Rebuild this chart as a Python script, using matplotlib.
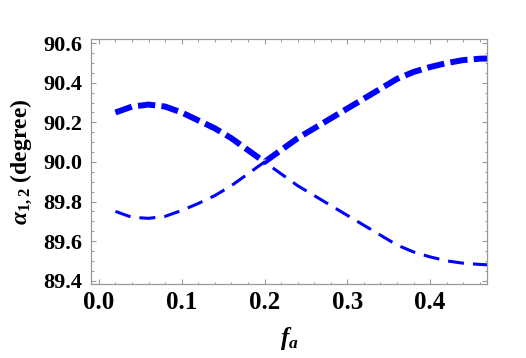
import matplotlib
matplotlib.use("Agg")
import matplotlib.pyplot as plt
from matplotlib.ticker import MultipleLocator

# values
fa = [0.02, 0.04, 0.06, 0.08, 0.10, 0.12, 0.14, 0.16, 0.18, 0.20,
      0.22, 0.24, 0.26, 0.28, 0.30, 0.32, 0.34, 0.36, 0.38, 0.40,
      0.42, 0.44, 0.46, 0.47]
alpha1 = [90.25, 90.28, 90.29, 90.28, 90.25, 90.21, 90.17, 90.12, 90.06, 90.00,
          90.06, 90.12, 90.17, 90.22, 90.27, 90.32, 90.37, 90.42, 90.455, 90.48,
          90.50, 90.515, 90.522, 90.523]
alpha2 = [89.75, 89.72, 89.715, 89.725, 89.755, 89.79, 89.83, 89.88, 89.94, 90.00,
          89.94, 89.88, 89.83, 89.78, 89.73, 89.68, 89.63, 89.58, 89.545, 89.52,
          89.50, 89.488, 89.482, 89.48]

plt.rcParams['font.family'] = ['Liberation Serif', 'DejaVu Serif']
plt.rcParams['font.weight'] = 'bold'
plt.rcParams['axes.labelweight'] = 'bold'
plt.rcParams['mathtext.fontset'] = 'custom'
plt.rcParams['mathtext.rm'] = 'Liberation Serif'
plt.rcParams['mathtext.it'] = 'Liberation Serif:italic'
plt.rcParams['mathtext.bf'] = 'Liberation Serif:bold'
plt.rcParams['lines.scale_dashes'] = False

fig = plt.figure(figsize=(5.26, 3.58), dpi=100)
ax = fig.add_axes([0.1724, 0.2067, 0.754, 0.6835])

ax.plot(fa, alpha1, color='#0000ff', lw=4.3, dashes=(12.5, 4.5))
ax.plot(fa, alpha2, color='#0000ff', lw=2.2, dashes=(11.5, 6.5))

ax.set_xlim(-0.0099, 0.469)
ax.set_ylim(89.383, 90.62)

ax.xaxis.set_major_locator(MultipleLocator(0.1))
ax.xaxis.set_minor_locator(MultipleLocator(0.02))
ax.yaxis.set_major_locator(MultipleLocator(0.2))
ax.yaxis.set_minor_locator(MultipleLocator(0.05))
ax.xaxis.set_major_formatter(lambda v, p: f"{v:.1f}")
ax.yaxis.set_major_formatter(lambda v, p: f"{v:.1f}")

for s in ax.spines.values():
    s.set_color('#999999')
    s.set_linewidth(0.9)
ax.tick_params(which='both', direction='in', top=True, right=True, color='#999999')
ax.tick_params(which='major', length=3.6, width=0.8)
ax.tick_params(which='minor', length=1.8, width=0.7)
ax.tick_params(axis='x', which='major', labelsize=18, pad=5)
ax.tick_params(axis='y', which='major', labelsize=16, pad=6)

ax.set_xlabel(r'$f_a$', fontsize=18, labelpad=8)
ax.set_ylabel(r'$\alpha_{1,2}$ (degree)', fontsize=17, labelpad=7)

fig.savefig('out.png', dpi=100)
